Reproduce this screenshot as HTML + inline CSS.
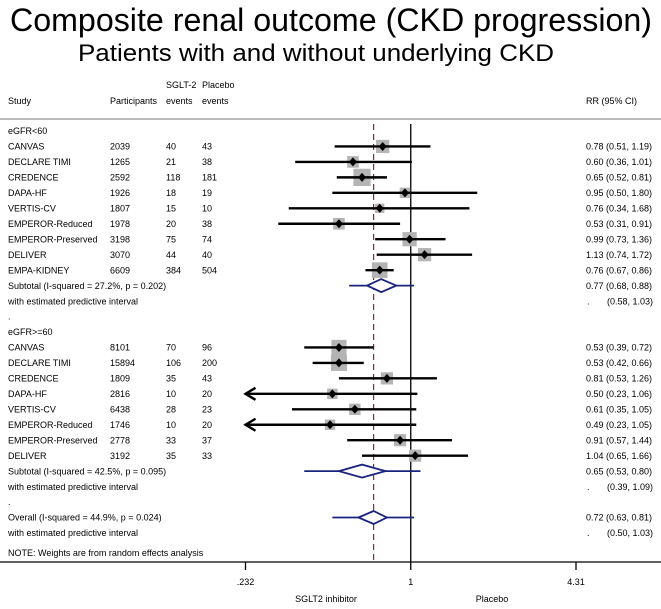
<!DOCTYPE html>
<html><head><meta charset="utf-8"><style>
html,body{margin:0;padding:0;background:#fff;}
body{width:661px;height:604px;overflow:hidden;font-family:"Liberation Sans",Arial,sans-serif;}
svg text{font-family:"Liberation Sans",Arial,sans-serif;}
</style></head><body>
<svg id="chart" width="661" height="604" viewBox="0 0 661 604" xmlns="http://www.w3.org/2000/svg">
<text x="331" y="31" font-size="32" text-anchor="middle" textLength="642" lengthAdjust="spacingAndGlyphs">Composite renal outcome (CKD progression)</text>
<text x="316" y="61" font-size="24" text-anchor="middle" textLength="476" lengthAdjust="spacingAndGlyphs">Patients with and without underlying CKD</text>
<g font-size="9" fill="#000">
<text x="8" y="104">Study</text>
<text x="110" y="104">Participants</text>
<text x="166" y="88">SGLT-2</text>
<text x="166" y="104">events</text>
<text x="202" y="88">Placebo</text>
<text x="202" y="104">events</text>
<text x="586" y="104">RR (95% CI)</text>
</g>
<line x1="0" y1="119" x2="661" y2="119" stroke="#bbb" stroke-width="2"/>
<g id="plot"></g>
</svg>
<script>
const names1 = ["CANVAS","DECLARE TIMI","CREDENCE","DAPA-HF","VERTIS-CV","EMPEROR-Reduced","EMPEROR-Preserved","DELIVER","EMPA-KIDNEY"];
const participants1 = [2039,1265,2592,1926,1807,1978,3198,3070,6609];
const sglt1 = [40,21,118,18,15,20,75,44,384];
const placebo1 = [43,38,181,19,10,38,74,40,504];
const rr1 = [0.78,0.60,0.65,0.95,0.76,0.53,0.99,1.13,0.76];
const lo1 = [0.51,0.36,0.52,0.50,0.34,0.31,0.73,0.74,0.67];
const hi1 = [1.19,1.01,0.81,1.80,1.68,0.91,1.36,1.72,0.86];
const wt1 = [6.5,5.0,11,4.0,3.2,5.0,7.5,6.5,9.0];
const names2 = ["CANVAS","DECLARE TIMI","CREDENCE","DAPA-HF","VERTIS-CV","EMPEROR-Reduced","EMPEROR-Preserved","DELIVER"];
const participants2 = [8101,15894,1809,2816,6438,1746,2778,3192];
const sglt2 = [70,106,35,10,28,10,33,35];
const placebo2 = [96,200,43,20,23,20,37,33];
const rr2 = [0.53,0.53,0.81,0.50,0.61,0.49,0.91,1.04];
const lo2 = [0.39,0.42,0.53,0.23,0.35,0.23,0.57,0.65];
const hi2 = [0.72,0.66,1.26,1.06,1.05,1.05,1.44,1.66];
const wt2 = [8.5,9.5,5.5,4.0,4.8,4.0,5.5,5.5];
const pooled = [0.77,0.65,0.72];
const pooledLo = [0.68,0.53,0.63];
const pooledHi = [0.88,0.80,0.81];
const predLo = [0.58,0.39,0.50];
const predHi = [1.03,1.09,1.03];
const hetText = ["Subtotal  (I-squared = 27.2%, p = 0.202)","Subtotal  (I-squared = 42.5%, p = 0.095)","Overall  (I-squared = 44.9%, p = 0.024)"];
const tickVals = [0.232,1,4.31];
const tickLabels = [".232","1","4.31"];

const NS="http://www.w3.org/2000/svg";
const g=document.getElementById('plot');
const xMin=0.232, xMax=4.31, pxMin=245.5, pxMax=576;
function X(v){return pxMin+(Math.log(v)-Math.log(xMin))/(Math.log(xMax)-Math.log(xMin))*(pxMax-pxMin);}
function Y(i){return 131+15.46*i;}
function el(tag,attrs){const e=document.createElementNS(NS,tag);for(const k in attrs)e.setAttribute(k,attrs[k]);g.appendChild(e);return e;}
function txt(x,y,s,name){const t=el('text',{x:x,y:y+3.2,'font-size':9});t.textContent=s;


return t;}
const f2=v=>v.toFixed(2);
const axisY=562;
const ref=el('line',{x1:X(1),y1:124,x2:X(1),y2:axisY,stroke:'#000','stroke-width':1.3});


const dash=el('line',{x1:X(pooled[2]),y1:124,x2:X(pooled[2]),y2:axisY,stroke:'#a02030','stroke-width':1.2,'stroke-dasharray':'6,4'});



function study(row,name,p,s,pl,r,l,h,w){
  const y=Y(row);
  txt(8,y,name,'study-name');txt(110,y,String(p),'participants');txt(166,y,String(s),'sglt2-events');txt(202,y,String(pl),'placebo-events');
  txt(586,y,f2(r)+" ("+f2(l)+", "+f2(h)+")",'rr-ci');
  const sz=5.2*Math.sqrt(w);
  const b=el('rect',{x:X(r)-sz/2,y:y-sz/2,width:sz,height:sz,fill:'#b4b4b4'});
  
  
  const clipped=l<xMin;
  const x1=clipped?X(xMin):X(l);
  const ln=el('line',{x1:x1,y1:y,x2:Math.min(X(h),pxMax),y2:y,stroke:'#000','stroke-width':2.4});
  
  
  if(clipped){const a=el('path',{d:`M${x1+10},${y-6} L${x1},${y} L${x1+10},${y+6}`,fill:'none',stroke:'#000','stroke-width':2.4});
  
  }
  const d=el('path',{d:`M${X(r)-4},${y} L${X(r)},${y-4.5} L${X(r)+4},${y} L${X(r)},${y+4.5}Z`,fill:'#000'});
  
  
}
function pool(row,k){
  const y=Y(row);
  txt(8,y,hetText[k],'heterogeneity-label');
  txt(586,y,f2(pooled[k])+" ("+f2(pooledLo[k])+", "+f2(pooledHi[k])+")",'pooled-rr');
  const pl=el('line',{x1:X(predLo[k]),y1:y,x2:X(predHi[k]),y2:y,stroke:'#1a237e','stroke-width':1.8});
  
  
  const d=el('path',{d:`M${X(pooledLo[k])},${y} L${X(pooled[k])},${y-6.5} L${X(pooledHi[k])},${y} L${X(pooled[k])},${y+6.5}Z`,fill:'#fff',stroke:'#1a237e','stroke-width':1.8});
  
  
  const y2=Y(row+1);
  txt(8,y2,'with estimated predictive interval','predictive-label');
  txt(587,y2,'.','predictive-dot');
  txt(607,y2,"("+f2(predLo[k])+", "+f2(predHi[k])+")",'predictive-rr');
}
txt(8,Y(0),'eGFR<60','group-label');
names1.forEach((n,i)=>study(1+i,n,participants1[i],sglt1[i],placebo1[i],rr1[i],lo1[i],hi1[i],wt1[i]));
pool(10,0);
txt(8,Y(12),'.','spacer-dot');
txt(8,Y(13),'eGFR>=60','group-label');
names2.forEach((n,i)=>study(14+i,n,participants2[i],sglt2[i],placebo2[i],rr2[i],lo2[i],hi2[i],wt2[i]));
pool(22,1);
txt(8,Y(24),'.','spacer-dot');
pool(25,2);
txt(8,553,'NOTE: Weights are from random effects analysis','note');
const ax=el('line',{x1:0,y1:axisY,x2:661,y2:axisY,stroke:'#000','stroke-width':1.3});


tickVals.forEach((v,i)=>{
  const t=el('line',{x1:X(v),y1:axisY,x2:X(v),y2:axisY+8,stroke:'#000','stroke-width':1.3});
  
  
  const l=el('text',{x:X(v),y:585,'font-size':9,'text-anchor':'middle'});l.textContent=tickLabels[i];
  
  
});
const l1=el('text',{x:326,y:602,'font-size':9,'text-anchor':'middle'});l1.textContent='SGLT2 inhibitor';


const l2=el('text',{x:492,y:602,'font-size':9,'text-anchor':'middle'});l2.textContent='Placebo';


</script>
</body></html>
